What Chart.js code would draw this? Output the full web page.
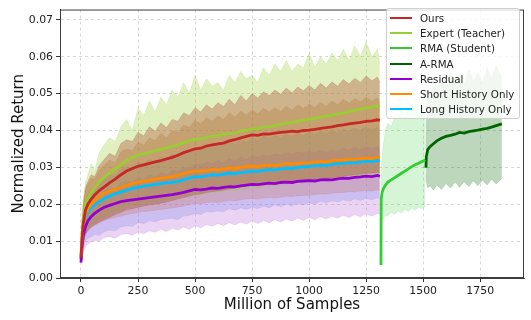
<!DOCTYPE html>
<html>
<head>
<meta charset="utf-8">
<script src="https://cdn.jsdelivr.net/npm/chart.js@4/dist/chart.umd.min.js"></script>
<style>
  html, body { margin: 0; padding: 0; background: #fff; }
  #wrap { position: relative; width: 531px; height: 320px; font-family: "DejaVu Sans", sans-serif; }
  #legend {
    position: absolute; left: 386px; top: 8px; width: 132px; height: 108px;
    background: rgba(255,255,255,0.8); border: 1px solid #d0d0d0; border-radius: 3px;
    padding-top: 1px; box-sizing: content-box;
  }
  .row { height: 15.3px; display: flex; align-items: center; font-size: 10.3px; color: #222; white-space: nowrap; }
  .swatch { width: 22px; height: 2px; margin: 0 8px 0 3px; }
</style>
</head>
<body>
<div id="wrap">
  <canvas id="chart" width="531" height="320"></canvas>
  <div id="legend"></div>
</div>
<script>
// x positions (million of samples)
const X_MAIN = [0,5,10,20,30,45,60,80,100,125,150,175,200,225,250,275,300,325,350,375,400,425,450,475,500,525,550,575,600,625,650,675,700,725,750,775,800,825,850,875,900,925,950,975,1000,1025,1050,1075,1100,1125,1150,1175,1200,1225,1250,1275,1300,1310]
const X_RMA = [1315,1316,1320,1325,1335,1345,1360,1375,1390,1405,1420,1435,1450,1465,1480,1495,1510]
const X_ARMA = [1512,1514,1520,1530,1545,1560,1580,1600,1620,1640,1660,1680,1700,1720,1740,1760,1780,1800,1820,1845]

const X_TICKS = [0,250,500,750,1000,1250,1500,1750]
const Y_TICKS = [0,0.01,0.02,0.03,0.04,0.05,0.06,0.07]

// mean curves
const OURS = [.0055,.0110,.0148,.0185,.0200,.0214,.0225,.0237,.0246,.0258,.0268,.0280,.0290,.0297,.0303,.0307,.0311,.0315,.0318,.0323,.0327,.0333,.0340,.0345,.0350,.0352,.0358,.0361,.0364,.0366,.0372,.0375,.0380,.0384,.0388,.0387,.0391,.0390,.0393,.0395,.0396,.0398,.0397,.0400,.0401,.0403,.0406,.0408,.0410,.0413,.0415,.0418,.0420,.0422,.0425,.0426,.0429,.0427]
const EXPERT = [.0060,.0120,.0160,.0200,.0215,.0232,.0245,.0260,.0272,.0285,.0296,.0308,.0318,.0326,.0333,.0337,.0341,.0345,.0349,.0352,.0358,.0361,.0367,.0372,.0377,.0376,.0381,.0385,.0386,.0390,.0392,.0393,.0398,.0401,.0404,.0406,.0409,.0410,.0413,.0417,.0420,.0422,.0425,.0428,.0431,.0433,.0436,.0439,.0441,.0445,.0448,.0451,.0455,.0458,.0462,.0463,.0467,.0465]
const SHORT = [.0050,.0105,.0140,.0172,.0188,.0200,.0210,.0220,.0229,.0235,.0240,.0246,.0251,.0256,.0259,.0262,.0265,.0268,.0270,.0273,.0275,.0278,.0283,.0287,.0290,.0289,.0292,.0294,.0293,.0296,.0298,.0297,.0300,.0302,.0303,.0302,.0305,.0306,.0305,.0307,.0310,.0309,.0311,.0312,.0312,.0314,.0316,.0315,.0318,.0319,.0320,.0322,.0321,.0324,.0325,.0324,.0327,.0325]
const LONG = [.0052,.0100,.0133,.0163,.0178,.0190,.0198,.0207,.0215,.0222,.0228,.0233,.0238,.0243,.0246,.0249,.0251,.0254,.0256,.0258,.0259,.0262,.0266,.0271,.0275,.0274,.0277,.0280,.0279,.0282,.0284,.0283,.0286,.0288,.0290,.0289,.0292,.0294,.0293,.0296,.0298,.0297,.0300,.0301,.0303,.0304,.0306,.0305,.0308,.0310,.0311,.0313,.0312,.0315,.0317,.0316,.0319,.0318]
const RESIDUAL = [.0042,.0088,.0115,.0140,.0155,.0167,.0175,.0184,.0191,.0197,.0202,.0207,.0210,.0212,.0214,.0216,.0218,.0220,.0222,.0224,.0226,.0229,.0232,.0236,.0240,.0239,.0241,.0244,.0243,.0246,.0248,.0247,.0250,.0252,.0254,.0253,.0255,.0257,.0256,.0259,.0260,.0259,.0262,.0263,.0264,.0263,.0266,.0267,.0266,.0269,.0271,.0270,.0273,.0274,.0276,.0275,.0278,.0276]
const RMA = [.0035,.0215,.0232,.0242,.0252,.0260,.0266,.0272,.0278,.0284,.0290,.0296,.0302,.0307,.0311,.0316,.0320]
const ARMA = [.0299,.0330,.0348,.0356,.0364,.0372,.0379,.0384,.0387,.0390,.0395,.0393,.0397,.0399,.0401,.0404,.0406,.0409,.0413,.0418]

// shaded spread (upper / lower edge)
const OURS_HI = [.0062,.0160,.0200,.0245,.0262,.0280,.0275,.0305,.0320,.0338,.0330,.0365,.0375,.0370,.0395,.0385,.0410,.0398,.0420,.0408,.0430,.0425,.0448,.0440,.0462,.0450,.0470,.0458,.0475,.0465,.0485,.0470,.0495,.0480,.0500,.0488,.0505,.0495,.0510,.0498,.0515,.0502,.0518,.0508,.0522,.0510,.0528,.0515,.0532,.0520,.0538,.0526,.0542,.0530,.0548,.0535,.0545,.0530]
const OURS_LO = [.0048,.0075,.0095,.0118,.0128,.0138,.0145,.0152,.0158,.0165,.0172,.0178,.0185,.0188,.0192,.0195,.0198,.0200,.0203,.0206,.0210,.0214,.0218,.0222,.0226,.0228,.0232,.0234,.0236,.0238,.0242,.0244,.0247,.0250,.0253,.0252,.0255,.0255,.0257,.0259,.0260,.0262,.0262,.0264,.0265,.0266,.0268,.0270,.0272,.0274,.0276,.0278,.0280,.0282,.0284,.0285,.0287,.0285]
const EXPERT_HI = [.0065,.0180,.0220,.0260,.0280,.0310,.0290,.0340,.0360,.0380,.0370,.0410,.0430,.0400,.0460,.0440,.0480,.0450,.0490,.0470,.0510,.0490,.0530,.0500,.0550,.0510,.0540,.0520,.0530,.0510,.0550,.0530,.0560,.0540,.0550,.0530,.0570,.0550,.0580,.0560,.0590,.0560,.0580,.0570,.0610,.0570,.0600,.0580,.0610,.0590,.0620,.0590,.0630,.0600,.0640,.0600,.0620,.0580]
const EXPERT_LO = [.0045,.0080,.0100,.0125,.0135,.0145,.0150,.0160,.0165,.0170,.0180,.0182,.0190,.0195,.0198,.0200,.0205,.0207,.0210,.0212,.0215,.0218,.0222,.0225,.0228,.0226,.0230,.0233,.0232,.0236,.0238,.0237,.0240,.0243,.0245,.0244,.0248,.0249,.0251,.0253,.0255,.0256,.0258,.0260,.0262,.0262,.0265,.0267,.0268,.0271,.0273,.0275,.0277,.0279,.0282,.0281,.0284,.0283]
const SHORT_HI = [.0058,.0150,.0195,.0240,.0255,.0270,.0268,.0292,.0305,.0320,.0312,.0342,.0350,.0345,.0368,.0360,.0380,.0372,.0392,.0380,.0400,.0395,.0415,.0408,.0428,.0418,.0435,.0425,.0440,.0430,.0448,.0436,.0452,.0442,.0456,.0445,.0460,.0450,.0462,.0452,.0466,.0455,.0470,.0460,.0472,.0462,.0476,.0465,.0480,.0470,.0484,.0474,.0486,.0478,.0490,.0480,.0488,.0475]
const SHORT_LO = [.0042,.0075,.0098,.0120,.0130,.0138,.0142,.0150,.0155,.0160,.0164,.0168,.0172,.0175,.0178,.0180,.0182,.0184,.0186,.0188,.0190,.0192,.0196,.0199,.0202,.0201,.0204,.0206,.0205,.0208,.0210,.0209,.0212,.0214,.0215,.0214,.0217,.0218,.0217,.0219,.0222,.0221,.0223,.0224,.0224,.0226,.0228,.0227,.0230,.0231,.0232,.0234,.0233,.0236,.0237,.0236,.0239,.0237]
const LONG_HI = [.0060,.0135,.0170,.0210,.0225,.0240,.0238,.0258,.0268,.0280,.0275,.0295,.0302,.0298,.0315,.0308,.0322,.0315,.0330,.0322,.0336,.0330,.0345,.0340,.0355,.0348,.0360,.0356,.0365,.0358,.0372,.0362,.0376,.0368,.0380,.0372,.0384,.0378,.0386,.0380,.0390,.0383,.0392,.0386,.0395,.0388,.0398,.0390,.0400,.0394,.0404,.0398,.0406,.0400,.0410,.0402,.0408,.0400]
const LONG_LO = [.0040,.0062,.0080,.0100,.0108,.0112,.0118,.0115,.0125,.0130,.0128,.0138,.0142,.0140,.0150,.0148,.0155,.0152,.0158,.0160,.0162,.0158,.0168,.0170,.0175,.0172,.0180,.0178,.0182,.0180,.0188,.0184,.0190,.0186,.0192,.0188,.0195,.0190,.0198,.0194,.0200,.0196,.0202,.0198,.0205,.0200,.0208,.0204,.0210,.0206,.0212,.0208,.0214,.0210,.0216,.0212,.0218,.0215]
const RESIDUAL_HI = [.0050,.0120,.0150,.0185,.0198,.0210,.0208,.0225,.0235,.0245,.0240,.0258,.0262,.0258,.0272,.0266,.0280,.0274,.0286,.0280,.0292,.0288,.0300,.0296,.0310,.0304,.0314,.0310,.0318,.0312,.0324,.0316,.0328,.0322,.0332,.0326,.0334,.0330,.0336,.0332,.0340,.0334,.0342,.0338,.0344,.0338,.0346,.0340,.0348,.0342,.0352,.0346,.0354,.0348,.0356,.0350,.0356,.0350]
const RESIDUAL_LO = [.0035,.0050,.0068,.0085,.0092,.0098,.0102,.0100,.0110,.0112,.0108,.0118,.0120,.0116,.0125,.0120,.0128,.0124,.0132,.0126,.0135,.0130,.0138,.0132,.0142,.0136,.0145,.0140,.0148,.0142,.0150,.0144,.0152,.0146,.0155,.0148,.0156,.0150,.0158,.0152,.0160,.0154,.0162,.0156,.0164,.0158,.0166,.0160,.0168,.0162,.0170,.0164,.0172,.0166,.0174,.0168,.0175,.0172]
const RMA_HI = [.0040,.0290,.0330,.0360,.0400,.0420,.0410,.0440,.0425,.0455,.0435,.0465,.0445,.0475,.0450,.0490,.0470]
const RMA_LO = [.0030,.0150,.0165,.0160,.0170,.0168,.0178,.0172,.0182,.0176,.0186,.0180,.0190,.0184,.0192,.0188,.0195]
const ARMA_HI = [.0320,.0420,.0480,.0500,.0520,.0510,.0540,.0520,.0560,.0530,.0550,.0525,.0565,.0535,.0555,.0530,.0570,.0540,.0575,.0545]
const ARMA_LO = [.0280,.0260,.0245,.0250,.0238,.0252,.0240,.0256,.0244,.0260,.0246,.0262,.0248,.0264,.0250,.0266,.0252,.0268,.0255,.0270]

const SERIES = [
  { label: 'Ours', color: '#c62828', band: 'rgba(170,75,50,0.36)', x: X_MAIN, mean: OURS, hi: OURS_HI, lo: OURS_LO },
  { label: 'Expert (Teacher)', color: '#9acd32', band: 'rgba(154,205,50,0.3)', x: X_MAIN, mean: EXPERT, hi: EXPERT_HI, lo: EXPERT_LO },
  { label: 'RMA (Student)', color: '#32cd32', band: 'rgba(50,205,50,0.2)', x: X_RMA, mean: RMA, hi: RMA_HI, lo: RMA_LO },
  { label: 'A-RMA', color: '#006400', band: 'rgba(0,100,0,0.26)', x: X_ARMA, mean: ARMA, hi: ARMA_HI, lo: ARMA_LO },
  { label: 'Residual', color: '#9400d3', band: 'rgba(190,110,220,0.3)', x: X_MAIN, mean: RESIDUAL, hi: RESIDUAL_HI, lo: RESIDUAL_LO },
  { label: 'Short History Only', color: '#ff8c00', band: 'rgba(200,130,70,0.34)', x: X_MAIN, mean: SHORT, hi: SHORT_HI, lo: SHORT_LO },
  { label: 'Long History Only', color: '#00bfff', band: 'rgba(100,149,237,0.28)', x: X_MAIN, mean: LONG, hi: LONG_HI, lo: LONG_LO },
]

const pts = (xs, ys) => xs.map((x, i) => ({ x: x, y: ys[i] }))

const datasets = []
// bands go first in the list but get drawn underneath (higher order)
SERIES.forEach((s) => {
  datasets.push({ data: pts(s.x, s.hi), borderColor: s.band, borderWidth: 0.6, backgroundColor: s.band, fill: '+1', pointRadius: 0, order: 2 })
  datasets.push({ data: pts(s.x, s.lo), borderColor: s.band, borderWidth: 0.6, fill: false, pointRadius: 0, order: 2 })
})
SERIES.forEach((s) => {
  datasets.push({ label: s.label, data: pts(s.x, s.mean), borderColor: s.color, borderWidth: 2.8, fill: false, pointRadius: 0, order: 1 })
})

// matplotlib-like box around the axes
const framePlugin = {
  id: 'frame',
  afterDraw(chart) {
    const { ctx, chartArea: a } = chart
    ctx.save()
    ctx.strokeStyle = '#3c3c3c'
    ctx.lineWidth = 1
    ctx.strokeRect(a.left + 0.5, a.top + 0.5, a.right - a.left - 1, a.bottom - a.top - 1)
    ctx.restore()
  }
}

const FONT = '"DejaVu Sans", sans-serif'
const gridOpts = { color: 'rgba(0,0,0,0.2)', lineWidth: 0.8, tickLength: 4, tickColor: '#333', tickWidth: 1, tickBorderDash: [] }

new Chart(document.getElementById('chart'), {
  type: 'line',
  data: { datasets: datasets },
  plugins: [framePlugin],
  options: {
    responsive: false,
    animation: false,
    layout: { padding: { top: 2, right: 7, left: 0, bottom: 0 } },
    elements: { line: { tension: 0 } },
    plugins: { legend: { display: false }, tooltip: { enabled: false } },
    scales: {
      x: {
        type: 'linear', min: -92, max: 1942,
        afterBuildTicks: (axis) => { axis.ticks = X_TICKS.map(v => ({ value: v })) },
        afterFit: (scale) => { scale.height = 42 },
        ticks: { font: { family: FONT, size: 10.9 }, color: '#222', padding: 3, maxRotation: 0, autoSkip: false, callback: (v) => String(v) },
        grid: gridOpts,
        border: { display: true, color: '#3c3c3c', dash: [3, 3] },
        title: { display: true, text: 'Million of Samples', font: { family: FONT, size: 15 }, color: '#111', padding: { top: 0, bottom: 6 } }
      },
      y: {
        min: 0, max: 0.0728,
        afterBuildTicks: (axis) => { axis.ticks = Y_TICKS.map(v => ({ value: v })) },
        afterFit: (scale) => { scale.width = 60 },
        ticks: { font: { family: FONT, size: 10.9 }, color: '#222', padding: 3, callback: (v) => v.toFixed(2) },
        grid: gridOpts,
        border: { display: true, color: '#3c3c3c', dash: [3, 3] },
        title: { display: true, text: 'Normalized Return', font: { family: FONT, size: 15 }, color: '#111', padding: { top: 10, bottom: 0 } }
      }
    }
  }
})

// legend box in the upper right corner of the axes
const legend = document.getElementById('legend')
SERIES.forEach((s) => {
  const row = document.createElement('div')
  row.className = 'row'
  row.innerHTML = '<span class="swatch" style="background:' + s.color + '"></span><span>' + s.label + '</span>'
  legend.appendChild(row)
})
</script>
</body>
</html>
